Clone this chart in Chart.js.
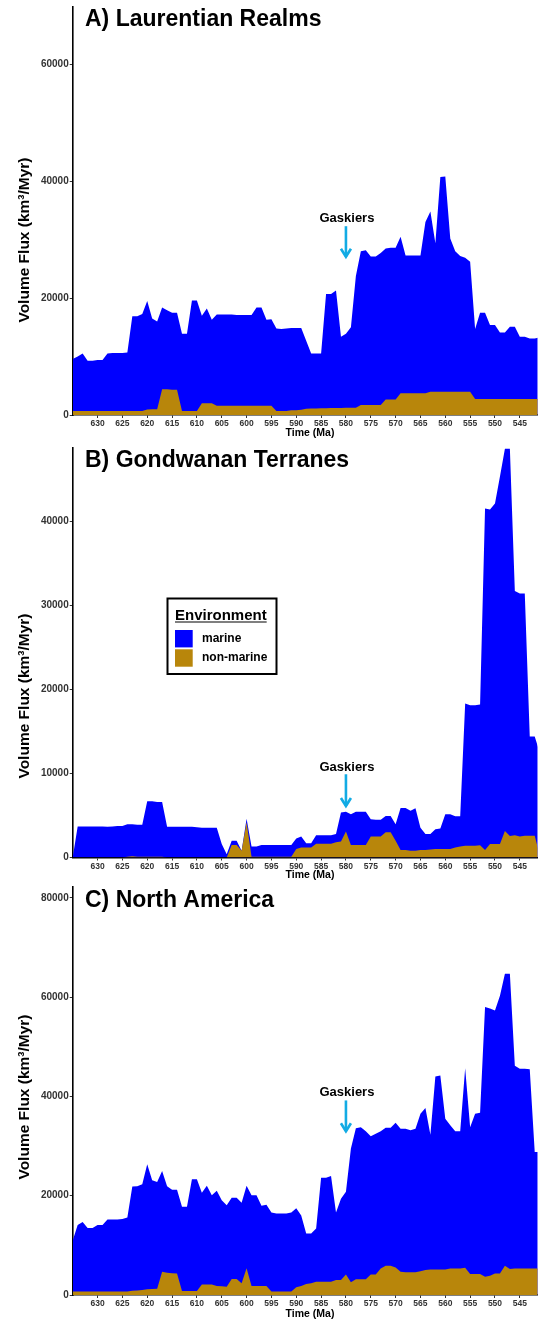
<!DOCTYPE html>
<html>
<head>
<meta charset="utf-8">
<script src="https://cdn.jsdelivr.net/npm/chart.js@4.4.1/dist/chart.umd.min.js"></script>
<style>
  html, body { margin: 0; padding: 0; background: #ffffff; }
  body { width: 542px; height: 1320px; overflow: hidden; }
  canvas { display: block; }
</style>
</head>
<body>
<canvas id="panelA" width="542" height="440"></canvas>
<canvas id="panelB" width="542" height="440"></canvas>
<canvas id="panelC" width="542" height="440"></canvas>
<script>
// Time bins (Ma), oldest first
const ages = [635,634,633,632,631,630,629,628,627,626,625,624,623,622,621,620,619,618,617,616,
  615,614,613,612,611,610,609,608,607,606,605,604,603,602,601,600,599,598,597,596,
  595,594,593,592,591,590,589,588,587,586,585,584,583,582,581,580,579,578,577,576,
  575,574,573,572,571,570,569,568,567,566,565,564,563,562,561,560,559,558,557,556,
  555,554,553,552,551,550,549,548,547,546,545,544,543,542,541];

const ageTicks = [630,625,620,615,610,605,600,595,590,585,580,575,570,565,560,555,550,545];

// Volume flux (km3/Myr) by environment
const laurentiaMarine = [8900,9300,9800,8600,8600,8700,8700,9800,9900,9900,
  9900,10000,16200,16200,16600,18550,15530,15030,14000,13500,
  13200,13200,13200,13200,18900,18900,15000,16200,14300,15600,
  15600,15600,15600,15500,15500,15500,15500,16800,16800,14700,
  14800,14100,14000,14100,14100,14100,14000,11620,9400,9400,
  9350,19550,19500,20100,12200,12650,13750,22550,26300,26500,
  25400,25400,26000,25830,25930,25930,26800,23600,23600,23600,
  23600,29300,30830,25430,36730,36830,26230,24030,23230,22930,
  22230,11970,14770,14770,12670,12670,11370,11370,12370,12370,
  10670,10670,10370,10370,10570];
const laurentiaNonMarine = [700,700,700,700,700,700,700,700,700,700,
  700,700,700,700,700,950,970,970,4400,4400,
  4300,4300,700,700,700,700,2000,2000,2000,1600,
  1600,1600,1600,1600,1600,1600,1600,1600,1600,1600,
  1600,700,700,700,800,800,900,1080,1100,1100,
  1150,1150,1200,1200,1200,1250,1250,1250,1700,1700,
  1700,1700,1700,2670,2670,2670,3700,3700,3700,3700,
  3700,3700,3970,3970,3970,3970,3970,3970,3970,3970,
  3970,2730,2730,2730,2730,2730,2730,2730,2730,2730,
  2730,2730,2730,2730,2730];

const gondwanaMarine = [0,3700,3700,3700,3700,3700,3700,3650,3700,3750,
  3750,3850,3800,3800,3800,6600,6600,6500,6500,3650,
  3650,3650,3650,3650,3650,3600,3550,3550,3550,3550,
  1600,400,500,500,0,400,1200,1200,1400,1400,
  1400,1400,1400,1400,1400,1250,1300,500,500,1000,
  1000,1000,1000,1000,3450,2350,3650,3950,3950,3950,
  2050,2000,2000,1950,1950,1950,5000,5000,4750,5050,
  2650,1900,1850,2350,2450,4150,4150,3700,3600,16900,
  16700,16700,16750,40600,39800,40500,43700,45450,46050,29050,
  28900,28800,11800,11800,12200];
const gondwanaNonMarine = [0,0,0,0,0,0,0,0,0,0,
  0,100,150,100,100,100,100,100,100,0,
  0,0,0,0,0,0,0,0,0,0,
  0,0,1500,1500,800,4200,100,100,100,100,
  100,100,100,100,100,1000,1200,1200,1200,1650,
  1650,1650,1650,1800,1900,3100,1500,1500,1500,1500,
  2500,2500,2500,3000,3000,2000,900,900,800,800,
  900,900,950,1000,1000,1000,1000,1200,1300,1400,
  1400,1400,1450,900,1600,1600,1600,3150,2550,2650,
  2500,2600,2600,2600,300];

const northAmericaMarine = [10300,13400,14000,12800,12800,13400,13400,14500,14500,14500,
  14600,14900,21000,21000,21300,25200,21900,21500,20300,17400,
  16800,16850,17000,17000,22500,22500,18500,19900,18000,19200,
  17350,16430,16400,16400,16250,16600,18300,18300,16200,16400,
  15900,15700,15700,15700,15900,15960,14200,10200,10050,10720,
  20920,20920,21320,13600,16400,16650,26950,30450,30650,29850,
  27850,28350,27640,27800,27800,29140,28810,28900,28640,28900,
  31700,32670,27140,38840,39040,30340,28840,27640,27640,40200,
  29580,32280,32480,54310,53810,52950,55950,58800,59470,40840,
  40240,40240,40140,23440,23440];
const northAmericaNonMarine = [700,700,700,700,700,700,700,700,700,700,
  700,700,870,900,1000,1140,1200,1270,4700,4500,
  4400,4350,800,800,800,800,2100,2100,2100,1800,
  1750,1670,3200,3200,2350,5400,1800,1800,1800,1800,
  700,700,700,700,700,1540,1800,2200,2350,2680,
  2680,2680,2680,3000,3000,4150,2550,3150,3150,3150,
  4150,4150,5360,5900,5900,5560,4690,4600,4560,4600,
  4800,5030,5160,5160,5160,5160,5360,5360,5360,5500,
  4220,4220,4220,3690,3890,4350,4350,5900,5230,5360,
  5360,5360,5360,5360,5360];

const fluxTicksA = [0, 20000, 40000, 60000];
const fluxTicksB = [0, 10000, 20000, 30000, 40000];
const fluxTicksC = [0, 20000, 40000, 60000, 80000];

const MARINE_COLOR = '#0000FF';
const NONMARINE_COLOR = '#B8860B';
const ARROW_COLOR = '#12ABE4';
const FONT = '"Liberation Sans", Arial, sans-serif';

// Headings, axis titles, the Gaskiers marker and the environment key
const panelDecor = {
  id: 'panelDecor',
  afterDraw(chart, args, opts) {
    const ctx = chart.ctx;
    const xs = chart.scales.x, ys = chart.scales.y;
    ctx.save();
    ctx.fillStyle = '#000';

    ctx.font = 'bold 23px ' + FONT;
    ctx.textAlign = 'left';
    ctx.textBaseline = 'alphabetic';
    ctx.fillText(opts.heading, 85, opts.headingBaseline);

    ctx.save();
    ctx.translate(24.5, opts.yTitleCenter);
    ctx.rotate(-Math.PI / 2);
    ctx.font = 'bold 15.5px ' + FONT;
    ctx.textAlign = 'center';
    ctx.textBaseline = 'middle';
    ctx.fillText('Volume Flux (km³/Myr)', 0, 0);
    ctx.restore();

    ctx.font = 'bold 10.5px ' + FONT;
    ctx.textAlign = 'center';
    ctx.textBaseline = 'middle';
    ctx.fillText('Time (Ma)', 310, opts.xTitleY);

    const g = opts.gaskiers;
    const gx = xs.getPixelForValue(g.age);
    ctx.font = 'bold 13px ' + FONT;
    ctx.fillText('Gaskiers', gx + 1, ys.getPixelForValue(g.label));
    const yFrom = ys.getPixelForValue(g.from);
    const yTo = ys.getPixelForValue(g.to);
    ctx.strokeStyle = ARROW_COLOR;
    ctx.lineWidth = 2.6;
    ctx.lineJoin = 'miter';
    ctx.beginPath();
    ctx.moveTo(gx, yFrom);
    ctx.lineTo(gx, yTo - 1);
    ctx.stroke();
    ctx.beginPath();
    ctx.moveTo(gx - 5, yTo - 9);
    ctx.lineTo(gx, yTo - 1);
    ctx.lineTo(gx + 5, yTo - 9);
    ctx.stroke();

    if (opts.legend) {
      const L = opts.legend;
      ctx.strokeStyle = '#000';
      ctx.lineWidth = 2;
      ctx.strokeRect(L.x, L.y, L.w, L.h);
      ctx.fillStyle = '#000';
      ctx.font = 'bold 15px ' + FONT;
      ctx.textAlign = 'left';
      ctx.textBaseline = 'alphabetic';
      const title = 'Environment';
      ctx.fillText(title, L.x + 7.5, L.y + 21);
      const tw = ctx.measureText(title).width;
      ctx.lineWidth = 1.2;
      ctx.beginPath();
      ctx.moveTo(L.x + 7.5, L.y + 23.5);
      ctx.lineTo(L.x + 7.5 + tw, L.y + 23.5);
      ctx.stroke();
      const entries = chart.data.datasets.slice().reverse();
      ctx.font = 'bold 12px ' + FONT;
      ctx.textBaseline = 'middle';
      entries.forEach((ds, i) => {
        const ky = L.y + 31.5 + i * 19.3;
        ctx.fillStyle = ds.backgroundColor;
        ctx.fillRect(L.x + 7.5, ky, 17.7, 17.4);
        ctx.fillStyle = '#000';
        ctx.fillText(ds.label, L.x + 34.5, ky + 8.8);
      });
    }
    ctx.restore();
  }
};

function series(values) {
  return ages.map((a, i) => ({ x: a, y: values[i] }));
}

function makePanel(id, marine, nonMarine, cfg) {
  return new Chart(document.getElementById(id), {
    type: 'line',
    data: {
      datasets: [
        { label: 'non-marine', data: series(nonMarine), backgroundColor: NONMARINE_COLOR,
          borderColor: 'rgba(0,0,0,0)', borderWidth: 0, fill: 'origin', pointRadius: 0, tension: 0 },
        { label: 'marine', data: series(marine), backgroundColor: MARINE_COLOR,
          borderColor: 'rgba(0,0,0,0)', borderWidth: 0, fill: 'origin', pointRadius: 0, tension: 0 }
      ]
    },
    options: {
      responsive: false,
      animation: false,
      devicePixelRatio: 1,
      layout: { padding: { top: cfg.top, right: 4.3, bottom: 0, left: 0 } },
      plugins: {
        legend: { display: false },
        tooltip: { enabled: false },
        panelDecor: cfg.decor
      },
      scales: {
        x: {
          type: 'linear',
          reverse: true,
          min: 541.4,
          max: 635,
          afterBuildTicks: s => { s.ticks = ageTicks.map(v => ({ value: v })); },
          afterFit: s => { s.height = cfg.xAxisHeight; },
          grid: { display: true, drawOnChartArea: false, drawTicks: true, tickLength: 3, color: '#333', lineWidth: 1 },
          border: { display: true, color: '#000', width: 1.6 },
          ticks: {
            autoSkip: false, maxRotation: 0, minRotation: 0, padding: 1,
            color: '#333', font: { family: FONT, size: 8.5, weight: 'bold' },
            callback: v => String(v)
          }
        },
        y: {
          type: 'linear',
          stacked: true,
          min: 0,
          max: cfg.yMax,
          afterBuildTicks: s => { s.ticks = cfg.yTicks.map(v => ({ value: v })); },
          afterFit: s => { s.width = 72.7; },
          grid: { display: true, drawOnChartArea: false, drawTicks: true, tickLength: 3, color: '#333', lineWidth: 1 },
          border: { display: true, color: '#000', width: 1.6 },
          ticks: {
            autoSkip: false, padding: 1,
            color: '#333', font: { family: FONT, size: 10, weight: 'bold' },
            callback: v => String(v)
          }
        }
      }
    },
    plugins: [panelDecor]
  });
}

makePanel('panelA', laurentiaMarine, laurentiaNonMarine, {
  top: 5, xAxisHeight: 25, yMax: 69800, yTicks: fluxTicksA,
  decor: {
    heading: 'A) Laurentian Realms', headingBaseline: 26, yTitleCenter: 240, xTitleY: 433,
    gaskiers: { age: 580, label: 33700, from: 32300, to: 26900 }
  }
});

makePanel('panelB', gondwanaMarine, gondwanaNonMarine, {
  top: 8, xAxisHeight: 22.5, yMax: 48700, yTicks: fluxTicksB,
  decor: {
    heading: 'B) Gondwanan Terranes', headingBaseline: 26.5, yTitleCenter: 256, xTitleY: 435.5,
    gaskiers: { age: 580, label: 10750, from: 9900, to: 6000 },
    legend: { x: 167.5, y: 158.5, w: 109, h: 75.5 }
  }
});

makePanel('panelC', northAmericaMarine, northAmericaNonMarine, {
  top: 6, xAxisHeight: 25, yMax: 82200, yTicks: fluxTicksC,
  decor: {
    heading: 'C) North America', headingBaseline: 26.5, yTitleCenter: 217, xTitleY: 434,
    gaskiers: { age: 580, label: 40800, from: 39200, to: 32800 }
  }
});
</script>
</body>
</html>
